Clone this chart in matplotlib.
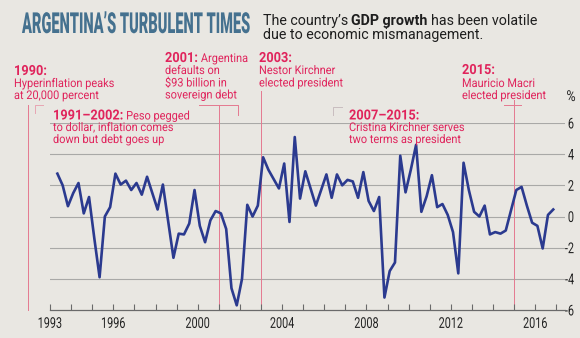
import matplotlib
matplotlib.use("Agg")
import matplotlib.pyplot as plt
from matplotlib import font_manager, patheffects
from matplotlib.ticker import FixedFormatter, FixedLocator
from matplotlib.transforms import Affine2D, blended_transform_factory

# Quarterly GDP growth (%), 1993 Q2 - 2017 Q1
START_YEAR = 1993.35
STEP = 0.25
gdp_growth = [
    2.75, 2.0, 0.66, 1.5, 2.15, 0.2, 1.25, -1.4, -3.9, 0.0,
    0.6, 2.75, 2.05, 2.3, 1.7, 2.15, 1.4, 2.55, 1.5, 0.45,
    2.05, -0.3, -2.65, -1.1, -1.15, -0.45, 1.7, -0.6, -1.65, -0.25,
    0.35, 0.2, -0.8, -4.6, -5.7, -4.0, 0.75, 0.0, 0.7, 3.8,
    3.0, 2.4, 1.8, 3.4, -0.35, 5.1, 1.15, 2.9, 1.8, 0.7,
    1.7, 2.7, 1.2, 2.7, 2.0, 2.35, 2.25, 1.2, 2.85, 1.0,
    0.35, 1.25, -5.2, -3.5, -2.95, 3.9, 1.55, 3.0, 4.6, 0.3,
    1.3, 2.65, 0.6, 0.8, 0.1, -1.0, -3.65, 3.45, 1.7, 0.3,
    0.0, 0.7, -1.15, -1.0, -1.1, -0.9, 0.4, 1.7, 1.9, 0.7,
    -0.4, -0.6, -2.05, 0.1, 0.45,
]
quarters = [START_YEAR + STEP * i for i in range(len(gdp_growth))]

year_ticks = list(range(1993, 2018))
labelled_years = [1993, 1996, 2000, 2004, 2008, 2012, 2016]
y_ticks = [-6, -4, -2, 0, 2, 4, 6]
y_labels = ["-6", "-4", "-2", "0", "2", "4", "6"]
grid_levels = [-4, -2, 0, 2, 4, 6]
event_years = [2001, 2003, 2015]

title = "ARGENTINA\u2019S TURBULENT TIMES"
subtitle_1 = [("The country\u2019s", "normal"), ("GDP growth", "bold"), ("has been volatile", "normal")]
subtitle_2 = "due to economic mismanagement."

BG = "#E9E7E2"
RED = "#E0245C"
LINE_RED = "#E47990"
BLUE = "#2B3A8F"
TITLE_BLUE = "#45718F"
W, H = 580, 338

installed = {f.name for f in font_manager.fontManager.ttflist}
SANS = "Roboto" if "Roboto" in installed else "DejaVu Sans"
FAMILY = [SANS, "DejaVu Sans"]
CAP = 0.711  # Roboto cap height / em


class Stretch(patheffects.AbstractPathEffect):
    """Stretch glyph outlines vertically, which gives a condensed look."""

    def __init__(self, sy, anchor="baseline"):
        super().__init__()
        self.sy = sy
        self.anchor = anchor

    def draw_path(self, renderer, gc, tpath, affine, rgbFace=None):
        if self.anchor == "baseline":
            y0 = affine.transform((0, 0))[1]
        else:
            bb = tpath.get_extents(affine)
            y0 = bb.y1 if self.anchor == "top" else (bb.y0 + bb.y1) / 2
        stretch = Affine2D().translate(0, -y0).scale(1, self.sy).translate(0, y0)
        renderer.draw_path(gc, tpath, affine + stretch, rgbFace)


fig = plt.figure(figsize=(W / 100, H / 100), dpi=100, facecolor=BG)
renderer = fig.canvas.get_renderer()
# pixel coordinates measured from the top-left corner
pix = Affine2D().scale(1 / W, -1 / H).translate(0, 1) + fig.transFigure


def put(x, y, s, stretch=None, **kw):
    t = fig.text(x, y, s, transform=pix, va="baseline", family=FAMILY, **kw)
    if stretch:
        t.set_path_effects([Stretch(stretch)])
    return t


def rich(x, y, parts, gap=3, **kw):
    """Write a line made of differently styled pieces, one after another."""
    for s, style in parts:
        t = put(x, y, s, **style, **kw)
        bb = t.get_window_extent(renderer)
        x = pix.inverted().transform((bb.x1, 0))[0] + gap


ax = fig.add_axes([50 / W, 1 - 310 / H, 515 / W, 187 / H])
ax.set_facecolor("none")
ax.set_xlim(1993, 1993 + 515 / 21.1)
ax.set_ylim(-6, 6)

for v in grid_levels:
    ax.axhline(v, color="#A9A9A7", lw=0.8, zorder=0)

ax.plot(quarters, gdp_growth, color=BLUE, lw=1.9, solid_joinstyle="round", zorder=3)

for side in ["left", "right", "top"]:
    ax.spines[side].set_visible(False)
ax.spines["bottom"].set_color("#6A6A6A")
ax.spines["bottom"].set_linewidth(0.9)

ax.xaxis.set_major_locator(FixedLocator(year_ticks))
ax.xaxis.set_major_formatter(FixedFormatter([str(y) if y in labelled_years else "" for y in year_ticks]))
ax.tick_params(axis="x", direction="in", length=4, width=0.8, color="#6A6A6A", pad=5,
               labelsize=7.8, labelcolor="#222222")
ax.yaxis.tick_right()
ax.set_yticks(y_ticks, y_labels)
ax.tick_params(axis="y", length=0, pad=6.5, labelsize=7.8, labelcolor="#222222")
for tick in ax.xaxis.get_major_ticks():
    tick.label1.set_family(FAMILY)
    tick.label1.set_path_effects([Stretch(1.38, "top")])
for tick in ax.yaxis.get_major_ticks():
    tick.label2.set_family(FAMILY)
    tick.label2.set_horizontalalignment("right")
    tick.label2.set_path_effects([Stretch(1.38, "middle")])

# event markers: x in years, y in pixels from the top
event_tr = blended_transform_factory(ax.transData, pix)
event_tops = [105, 91, 100]
for yr, top in zip(event_years, event_tops):
    ax.plot([yr, yr], [310, top], transform=event_tr, color=LINE_RED, lw=0.7, clip_on=False, zorder=1)
ax.plot([2000.07, 2001.93, 2001.93], [105, 105, 115], transform=event_tr, color=LINE_RED, lw=0.7,
        clip_on=False, zorder=1)
ax.plot([2014.5, 2015.3], [105, 105], transform=event_tr, color=LINE_RED, lw=0.7, clip_on=False)

# 1990 marker and period brackets sit left of / above the axis
fig.add_artist(plt.Line2D([28, 28], [105, 310], transform=pix, color=LINE_RED, lw=0.7))
fig.add_artist(plt.Line2D([35, 35, 43], [113, 105, 105], transform=pix, color="#E7A5B3", lw=0.7))
fig.add_artist(plt.Line2D([333, 333, 342], [115, 107, 107], transform=pix, color="#C9BDBF", lw=0.7))

# title: sized to its width, then stretched up to its cap height
t = put(22, 33, title, weight="black", size=20, color=TITLE_BLUE)
size = 20 * 228 / t.get_window_extent(renderer).width
t.set_fontsize(size)
t.set_path_effects([Stretch(20.6 / (CAP * size * 100 / 72))])

rich(263, 25, [(s, {"weight": w}) for s, w in subtitle_1], gap=3.2, size=10.3, color="#1E1E1E")
put(263, 39.5, subtitle_2, size=10.3, color="#1E1E1E")

head = {"weight": "bold", "size": 9.2, "stretch": 1.09}
body = {"weight": "normal", "size": 7.9, "stretch": 1.09}
notes = [
    (14, [75, 87, 99], [[("1990:", head)], [("Hyperinflation peaks", body)], [("at 20,000 percent", body)]]),
    (165, [62, 74, 86.5, 98.5], [[("2001:", head), ("Argentina", body)], [("defaults on", body)],
                                 [("$93 billion in", body)], [("sovereign debt", body)]]),
    (259, [62, 74, 86.5], [[("2003:", head)], [("Nestor Kirchner", body)], [("elected president", body)]]),
    (53, [119.5, 131, 143], [[("1991\u20132002:", head), ("Peso pegged", body)],
                             [("to dollar, inflation comes", body)], [("down but debt goes up", body)]]),
    (349, [119.5, 131, 143], [[("2007\u20132015:", head)], [("Cristina Kirchner serves", body)],
                              [("two terms as president", body)]]),
    (462, [74, 87, 99], [[("2015:", head)], [("Mauricio Macri", body)], [("elected president", body)]]),
]
for x, ys, lines in notes:
    for y, parts in zip(ys, lines):
        rich(x, y, parts, color=RED)

put(571, 101, "%", ha="center", size=9, stretch=1.2, color="#222222")

fig.savefig("out.png", dpi=100, facecolor=BG)
